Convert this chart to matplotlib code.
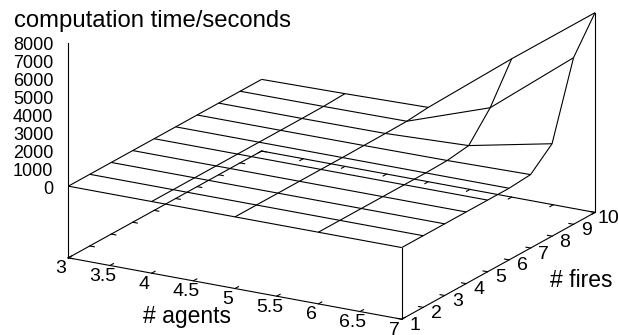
import numpy as np
import matplotlib
matplotlib.use("Agg")
import matplotlib.pyplot as plt
from matplotlib.transforms import offset_copy
from mpl_toolkits.mplot3d import proj3d

plt.rcParams['font.family'] = ['Liberation Sans', 'DejaVu Sans']

# data
agents = [3, 4, 5, 6, 7]
fires = [1, 2, 3, 4, 5, 6, 7, 8, 9, 10]
# computation time/seconds, one row per number of fires, one column per number of agents
times = [
    [0, 0, 0, 0, 0],
    [0, 0, 0, 0, 0],
    [0, 0, 0, 0, 0],
    [0, 0, 0, 0, 0],
    [0, 0, 0, 0, 0],
    [0, 0, 0, 0, 0],
    [0, 0, 10, 30, 100],
    [0, 0, 20, 200, 1160],
    [0, 10, 40, 1650, 5300],
    [0, 60, 150, 3720, 7150],
]

x_ticks = [3, 3.5, 4, 4.5, 5, 5.5, 6, 6.5, 7]
y_ticks = fires
z_ticks = [0, 1000, 2000, 3000, 4000, 5000, 6000, 7000, 8000]

xmin, xmax = 3, 7
ymin, ymax = 1, 10
zmin, zmax = 0, 8000
zbase = zmin - 0.5 * (zmax - zmin)   # gnuplot ticslevel 0.5

fig = plt.figure(figsize=(6.19, 3.35), dpi=100)
W = 573.6
ax = fig.add_axes([37.1 / 619, -87.2 / 335, W / 619, W / 335],
                  projection='3d', proj_type='ortho')
ax.view_init(elev=18.6, azim=-60)
ax.set_xlim(xmin, xmax)
ax.set_ylim(ymin, ymax)
ax.set_zlim(zbase, zmax)
ax.set_box_aspect((385, 386.6, 226.8))
ax.set_axis_off()

lw = 0.8
k = 'black'

# surface
X, Y = np.meshgrid(agents, fires)
Z = np.array(times, dtype=float)
ax.plot_wireframe(X, Y, Z, rstride=1, cstride=1, color=k, linewidth=lw)

# base box
ax.plot([xmin, xmax, xmax, xmin, xmin], [ymin, ymin, ymax, ymax, ymin],
        [zbase] * 5, color=k, lw=lw)
# z axis and corner legs
ax.plot([xmin, xmin], [ymin, ymin], [zbase, zmax], color=k, lw=lw)
ax.plot([xmax, xmax], [ymin, ymin], [zbase, Z[0, -1]], color=k, lw=lw)
ax.plot([xmax, xmax], [ymax, ymax], [zbase, Z[-1, -1]], color=k, lw=lw)

# tick marks (with mirror on the back edges)
tx = 0.16 * (ymax - ymin) / 9
ty = 0.055 * (xmax - xmin) / 4
for xv in x_ticks:
    ax.plot([xv, xv], [ymin, ymin + tx], [zbase, zbase], color=k, lw=lw)
    ax.plot([xv, xv], [ymax, ymax - tx], [zbase, zbase], color=k, lw=lw)
for yv in y_ticks:
    ax.plot([xmax, xmax - ty], [yv, yv], [zbase, zbase], color=k, lw=lw)
    ax.plot([xmin, xmin + ty], [yv, yv], [zbase, zbase], color=k, lw=lw)

# tick labels: project the 3d tick position, then offset in pixels
M = ax.get_proj()

def label(xv, yv, zv, s, dx, dy, ha, size):
    px, py, _ = proj3d.proj_transform(xv, yv, zv, M)
    tr = offset_copy(ax.transData, fig=fig, x=dx, y=dy, units='dots')
    fig.text(px, py, s, transform=tr, ha=ha, va='baseline', fontsize=size)

for xv in x_ticks:
    label(xv, ymin, zbase, '%g' % xv, -7.3, -15.6, 'center', 14)
for yv in y_ticks:
    label(xmax, yv, zbase, '%g' % yv, 13, -10.5, 'center', 14)
for zv in z_ticks:
    label(xmin, ymin, zv, '%g' % zv, -15, -7.5, 'right', 13)

fig.text(14.3 / 619, 1 - 26.7 / 335, 'computation time/seconds',
         ha='left', va='baseline', fontsize=17.2)
fig.text(186.7 / 619, 1 - 323.5 / 335, '# agents',
         ha='center', va='baseline', fontsize=16.5)
fig.text(581 / 619, 1 - 287.3 / 335, '# fires',
         ha='center', va='baseline', fontsize=16.5)

fig.savefig('out.png', dpi=100)
